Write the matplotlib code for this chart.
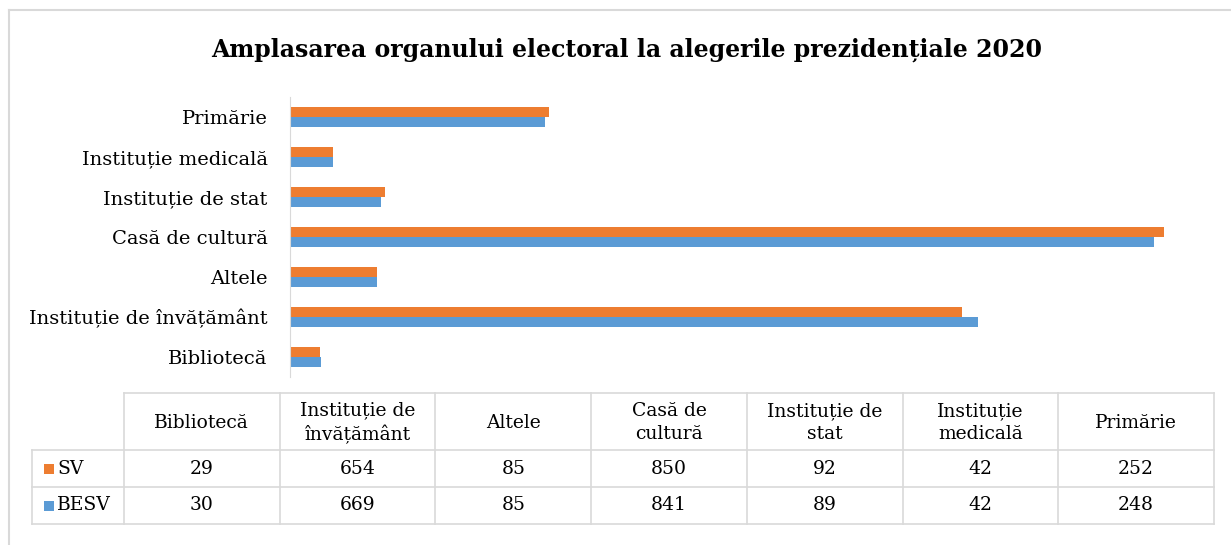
import matplotlib.pyplot as plt
import numpy as np
from matplotlib.patches import Rectangle
from matplotlib.lines import Line2D

plt.rcParams['font.family'] = ['DejaVu Serif']

categories = ['Bibliotecă', 'Instituție de învățământ', 'Altele', 'Casă de cultură',
              'Instituție de stat', 'Instituție medicală', 'Primărie']
table_headers = ['Bibliotecă', 'Instituție de\nînvățământ', 'Altele', 'Casă de\ncultură',
                 'Instituție de\nstat', 'Instituție\nmedicală', 'Primărie']
series_names = ['SV', 'BESV']
sv = [29, 654, 85, 850, 92, 42, 252]
besv = [30, 669, 85, 841, 89, 42, 248]
colors = ['#ED7D31', '#5B9BD5']
grid_col = '#d9d9d9'

W, H = 1231, 545
fig = plt.figure(figsize=(W / 100, H / 100), dpi=100)

# outer chart frame (only left/top visible in the crop)
fig.add_artist(Line2D([9 / W, 9 / W], [0, 1 - 10 / H], color=grid_col, lw=1.5))
fig.add_artist(Line2D([9 / W, 1], [1 - 10 / H, 1 - 10 / H], color=grid_col, lw=1.5))

fig.text(627 / W, 1 - 50 / H, 'Amplasarea organului electoral la alegerile prezidențiale 2020',
         ha='center', va='center', fontsize=17, fontweight='bold')

# bar chart
ax = fig.add_axes([290 / W, 1 - 377 / H, 923 / W, 280 / H])
y = np.arange(len(categories))
h = 0.25
ax.barh(y + h / 2, sv, height=h, color=colors[0])
ax.barh(y - h / 2, besv, height=h, color=colors[1])
ax.set_xlim(0, 898)
ax.set_ylim(-0.5, len(categories) - 0.5)
ax.set_yticks(y)
ax.set_yticklabels(categories, fontsize=14)
ax.tick_params(axis='y', length=0, pad=16)
ax.set_xticks([])
for s in ['top', 'right', 'bottom']:
    ax.spines[s].set_visible(False)
ax.spines['left'].set_color(grid_col)

# data table, drawn in pixel coordinates of its own axes
x0, x1, y0, y1 = 30, 1216, 390, 527
tax = fig.add_axes([x0 / W, 1 - y1 / H, (x1 - x0) / W, (y1 - y0) / H])
tax.set_xlim(x0, x1)
tax.set_ylim(y1, y0)
tax.axis('off')

left_lab, col_start, col_end = 32, 124, 1214
row_edges = [393, 450, 487, 524]
ncol = len(table_headers)
col_w = (col_end - col_start) / ncol
col_edges = [col_start + i * col_w for i in range(ncol + 1)]

kw = dict(color=grid_col, lw=1.2)
tax.plot([col_start, col_end], [row_edges[0]] * 2, **kw)
for ry in row_edges[1:]:
    tax.plot([left_lab, col_end], [ry, ry], **kw)
tax.plot([left_lab, left_lab], [row_edges[1], row_edges[-1]], **kw)
for cx in col_edges:
    tax.plot([cx, cx], [row_edges[0], row_edges[-1]], **kw)

for j, lab in enumerate(table_headers):
    xc = (col_edges[j] + col_edges[j + 1]) / 2
    tax.text(xc, (row_edges[0] + row_edges[1]) / 2 + 1, lab, ha='center', va='center',
             fontsize=13.5, linespacing=1.35)

for i, (name, vals) in enumerate(zip(series_names, [sv, besv])):
    yc = (row_edges[i + 1] + row_edges[i + 2]) / 2
    tax.add_patch(Rectangle((44, yc - 5), 10, 10, facecolor=colors[i], edgecolor='none'))
    tax.text(57, yc, name, ha='left', va='center', fontsize=13.5)
    for j, v in enumerate(vals):
        xc = (col_edges[j] + col_edges[j + 1]) / 2
        tax.text(xc, yc, str(v), ha='center', va='center', fontsize=13.5)

fig.savefig('out.png', dpi=100)
